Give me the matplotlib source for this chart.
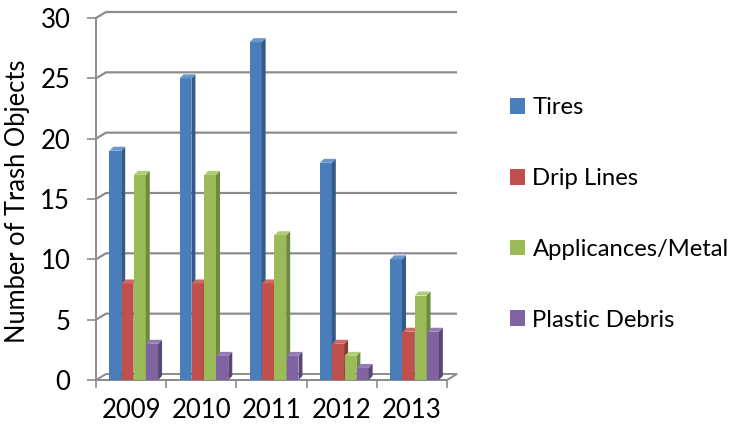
import numpy as np
import matplotlib
matplotlib.use("Agg")
import matplotlib.pyplot as plt
from matplotlib.patches import Polygon, Patch

plt.rcParams['font.family'] = ['Lato', 'DejaVu Sans']

years = ["2009", "2010", "2011", "2012", "2013"]
series_names = ["Tires", "Drip Lines", "Applicances/Metal", "Plastic Debris"]
tires = [19, 25, 28, 18, 10]
drip_lines = [8, 8, 8, 3, 4]
appliances_metal = [17, 17, 12, 2, 7]
plastic_debris = [3, 2, 2, 1, 4]
yticks = [0, 5, 10, 15, 20, 25, 30]

values = [tires, drip_lines, appliances_metal, plastic_debris]
front_colors = ["#4A7EBB", "#C0504D", "#9BBB59", "#8064A2"]
side_colors = ["#345A8A", "#8C3836", "#6E8A3E", "#5A4675"]
top_colors = ["#6A96CC", "#D06A67", "#B0CC74", "#957BB5"]

W, H = 737, 425
fig = plt.figure(figsize=(W / 100, H / 100), dpi=100)
ax_l, ax_b, ax_w, ax_h = 96, 380, 351, 362
ax = fig.add_axes([ax_l / W, (H - ax_b) / H, ax_w / W, ax_h / H])
ax.set_xlim(-0.5, len(years) - 0.5)
ax.set_ylim(0, 30)
ax.patch.set_alpha(0)

pxx = ax_w / len(years)
pxy = ax_h / 30.0
# wall depth (pixels -> data)
wdx, wdy = 10 / pxx, 6 / pxy
# bar depth
bdx, bdy = 4 / pxx, 4 / pxy

grid_c = "#8C8C8C"
# gridlines on back wall with diagonal from front axis
for v in yticks[1:]:
    ax.plot([-0.5, -0.5 + wdx, len(years) - 0.5 + wdx], [v, v + wdy, v + wdy],
            color=grid_c, lw=1.6, zorder=1, clip_on=False, solid_capstyle='butt')
# floor
floor = Polygon([(-0.5, 0), (len(years) - 0.5, 0), (len(years) - 0.5 + wdx, wdy), (-0.5 + wdx, wdy)],
                closed=True, facecolor="white", edgecolor=grid_c, lw=1.4, zorder=2, clip_on=False)
ax.add_patch(floor)

w = 0.168
offsets = [-0.225, -0.05, 0.125, 0.30]
xs = np.arange(len(years))
for i, vals in enumerate(values):
    x = xs + offsets[i]
    ax.bar(x, vals, width=w, color=front_colors[i], linewidth=0, zorder=3 + i, clip_on=False)
    for xc, v in zip(x, vals):
        side = Polygon([(xc + w / 2, 0), (xc + w / 2 + bdx, bdy), (xc + w / 2 + bdx, v + bdy), (xc + w / 2, v)],
                       closed=True, facecolor=side_colors[i], lw=0, zorder=3 + i, clip_on=False)
        top = Polygon([(xc - w / 2, v), (xc - w / 2 + bdx, v + bdy), (xc + w / 2 + bdx, v + bdy), (xc + w / 2, v)],
                      closed=True, facecolor=top_colors[i], lw=0, zorder=3 + i, clip_on=False)
        ax.add_patch(side)
        ax.add_patch(top)

for s in ["top", "right"]:
    ax.spines[s].set_visible(False)
for s in ["left", "bottom"]:
    ax.spines[s].set_color(grid_c)
    ax.spines[s].set_linewidth(1.4)
    ax.spines[s].set_zorder(2.5)

ax.set_yticks(yticks)
ax.set_yticklabels([str(t) for t in yticks])
ax.tick_params(axis='y', length=6.5, width=1.2, color=grid_c, pad=12, labelsize=18.5, labelcolor="black")

ax.set_xticks(np.arange(len(years) + 1) - 0.5)
ax.set_xticklabels([])
ax.set_xticks(xs, minor=True)
ax.set_xticklabels(years, minor=True)
ax.tick_params(axis='x', which='major', length=6, width=1.2, color=grid_c)
ax.tick_params(axis='x', which='minor', length=0, pad=13, labelsize=18.5, labelcolor="black")

fig.text(18 / W, 1 - 201 / H, "Number of Trash Objects", rotation=90, ha='center', va='center',
         fontsize=18.4, color="black")

handles = [Patch(facecolor=c, edgecolor='none') for c in front_colors]
leg = fig.legend(handles, series_names, loc='center left', bbox_to_anchor=(510 / W, 1 - 214 / H),
                 frameon=False, fontsize=17.2, handlelength=0.64, handleheight=0.64,
                 handletextpad=0.3, labelspacing=2.08, borderpad=0, borderaxespad=0)

fig.savefig("out.png", dpi=100)
